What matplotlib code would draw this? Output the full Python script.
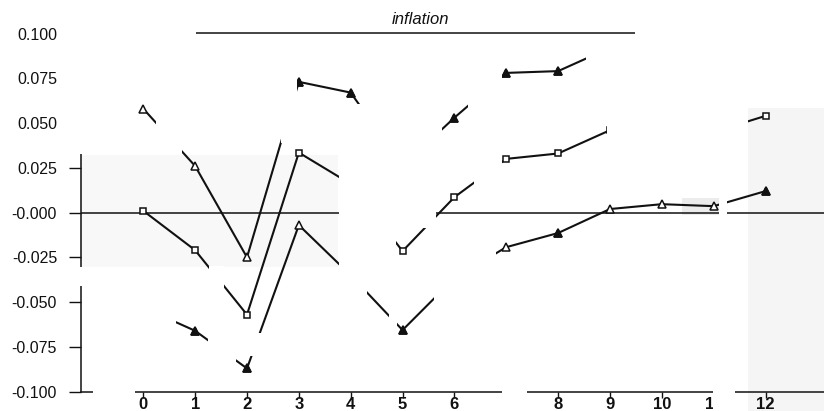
import numpy as np
import matplotlib
matplotlib.use("Agg")
import matplotlib.pyplot as plt
from matplotlib.patches import Rectangle

# ---- data -------------------------------------------------------------
periods = list(range(13))
x_tick_labels = [str(p) for p in periods]
y_ticks = [-0.100, -0.075, -0.050, -0.025, 0.000, 0.025, 0.050, 0.075, 0.100]
y_tick_labels = ["-0.100", "-0.075", "-0.050", "-0.025", "-0.000",
                 "0.025", "0.050", "0.075", "0.100"]
title_text = "inflation"

upper_band = [0.058, 0.026, -0.025, 0.073, 0.067, 0.026, 0.053,
              0.078, 0.079, 0.092, np.nan, np.nan, np.nan]
point_estimate = [0.001, -0.021, -0.057, 0.0335, 0.016, -0.0215, 0.0086,
                  0.030, 0.033, 0.046, np.nan, 0.045, 0.054]
lower_band = [-0.053, -0.066, -0.087, -0.007, -0.035, -0.0656, -0.0366,
              -0.0193, -0.0114, 0.002, 0.0047, 0.0036, 0.012]

# ---- style ------------------------------------------------------------
W_PX, H_PX = 824, 411
plt.rcParams["font.family"] = ["Liberation Sans", "DejaVu Sans"]
INK = "#111111"
LW = 1.5
filled_upper = [3, 4, 6, 7, 8]
filled_lower = [1, 2, 5, 8, 12]

fig = plt.figure(figsize=(W_PX / 100, H_PX / 100), dpi=100)
left_px, right_px, top_px, bottom_px = 80.7, 824.0, 33.5, 391.7
ax = fig.add_axes([left_px / W_PX, 1 - bottom_px / H_PX,
                   (right_px - left_px) / W_PX, (bottom_px - top_px) / H_PX])
ax.set_xlim(-1.207, 13.128)
ax.set_ylim(-0.1, 0.1)


def px_box(x0, y0, x1, y1, color, z):
    """Rectangle given in figure pixels (origin top-left)."""
    r = Rectangle((x0 / W_PX, 1 - y1 / H_PX), (x1 - x0) / W_PX, (y1 - y0) / H_PX,
                  transform=fig.transFigure, facecolor=color, edgecolor="none",
                  zorder=z, clip_on=False)
    ax.add_artist(r)


# faint paper tone of the scanned panels
px_box(80, 155, 338, 267, "#f8f8f8", 0.1)
px_box(748, 108, 824, 411, "#f5f5f5", 0.1)
px_box(682, 198, 720, 215, "#ececec", 0.1)

ax.axhline(0, color=INK, lw=1.1, zorder=1.8)

series = [(upper_band, "^", 6.0, filled_upper),
          (point_estimate, "s", 5.0, []),
          (lower_band, "^", 6.0, filled_lower)]
for vals, mk, ms, filled in series:
    ax.plot(periods, vals, color=INK, lw=LW, marker=mk, ms=ms,
            mfc="white", mec=INK, mew=1.1, zorder=2)
    if filled:
        ax.plot([periods[i] for i in filled], [vals[i] for i in filled],
                ls="none", marker=mk, ms=ms, mfc=INK, mec=INK, mew=1.1, zorder=2.1)

# axes frame
for side in ("left", "bottom", "top"):
    ax.spines[side].set_linewidth(1.1)
    ax.spines[side].set_color(INK)
ax.spines["right"].set_visible(False)

ax.set_yticks(y_ticks)
ax.set_yticklabels(y_tick_labels)
ax.set_xticks(periods)
ax.set_xticklabels(x_tick_labels, fontweight="bold")
ax.tick_params(axis="y", direction="out", length=9, width=1.0, pad=8.0,
               labelsize=11.5, colors=INK)
ax.tick_params(axis="x", direction="out", length=4, width=1.0, pad=0,
               labelsize=12, colors=INK)

fig.text(420 / W_PX, 1 - 20 / H_PX, title_text, ha="center", va="center",
         fontsize=12, style="italic", color=INK)

# blank stretches of the page
blanks = [
    (60, 18, 100, 154), (100, 25, 196, 41), (156, 100, 182, 154),
    (281, 55, 297, 143), (60, 267, 100, 286), (209, 266, 224, 288),
    (130, 296, 176, 330), (208, 336, 236, 364), (250, 333, 272, 356),
    (339, 104, 396, 245), (396, 110, 436, 228), (436, 110, 442, 205),
    (339, 250, 367, 300), (389, 306, 397, 328), (434, 245, 496, 305),
    (468, 55, 502, 150), (474, 150, 502, 192), (586, 36, 824, 108),
    (635, 25, 824, 41), (607, 108, 748, 190), (719, 195, 727, 220),
    (502, 384, 527, 411), (713, 384, 735, 411), (93, 385, 135, 396),
]
for b in blanks:
    px_box(*b, "white", 5)

fig.savefig("out.png", dpi=100, facecolor="white")
